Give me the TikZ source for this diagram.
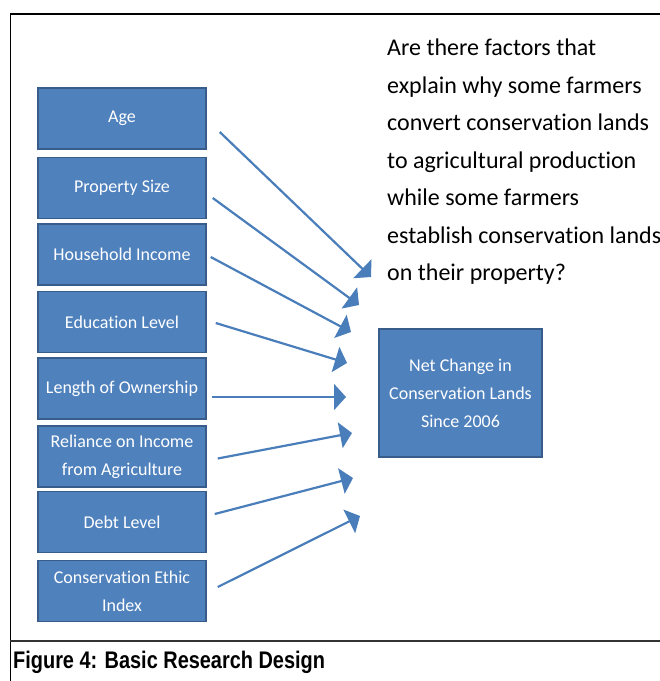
\documentclass[tikz,border=0pt]{standalone}
\usepackage{fontspec}
\setmainfont{Carlito}[RawFeature={-liga;-clig;-calt;-dlig}]
\newfontfamily\capfont{Liberation Sans}
\usetikzlibrary{arrows.meta}

\definecolor{boxblue}{HTML}{4F81BD}
\definecolor{boxedge}{HTML}{385D8A}
\definecolor{linkblue}{HTML}{4A7EBB}

\tikzset{
  factor/.style={draw=boxedge, line width=1.5pt, fill=boxblue, text=white,
    minimum width=168pt, minimum height=61pt, align=center, inner sep=2pt,
    font=\fontsize{18}{28}\selectfont},
  link/.style={draw=linkblue, line width=2.2pt, -{Triangle[length=12pt,width=26pt]}}
}

\begin{document}
\begin{tikzpicture}[x=1pt, y=-1pt]
\useasboundingbox (0,0) rectangle (660,681);

% frame and caption rule
\draw[line width=2.5pt] (10,14) -- (660,14);
\draw[line width=1pt] (10,14) -- (10,681);
\draw[line width=1.8pt, black!80] (10,641) -- (660,641);

\node[factor] (age)       at (122,118.5) {Age};
\node[factor] (propsize)  at (122,188)   {Property Size};
\node[factor] (income)    at (122,254.5) {Household Income};
\node[factor] (education) at (122,322)   {Education Level};
\node[factor] (ownership) at (122,388.5) {Length of Ownership};
\node[factor] (reliance)  at (122,456.5) {Reliance on Income\\from Agriculture};
\node[factor] (debt)      at (122,522)   {Debt Level};
\node[factor] (ethic)     at (122,591)   {Conservation Ethic\\Index};

\node[factor, minimum width=163pt, minimum height=128pt] (netchange) at (460.5,393)
  {Net Change in\\Conservation Lands\\Since 2006};

\node[anchor=north west, align=left, inner sep=0pt,
  font=\fontsize{24}{37.5}\selectfont] (question) at (387,39)
  {Are there factors that\\explain why some farmers\\convert conservation lands\\to agricultural production\\while some farmers\\establish conservation lands\\on their property?};

\node[anchor=west, inner sep=0pt, font=\capfont\fontsize{24}{28}\selectfont\bfseries]
  (caption) at (13,662) {\scalebox{0.83}[1]{Figure 4: Basic Research Design}};

% arrow tips, all short of the outcome box
\coordinate (age-tip)       at (371,277);
\coordinate (propsize-tip)  at (359,305);
\coordinate (income-tip)    at (351,332);
\coordinate (education-tip) at (347,363);
\coordinate (ownership-tip) at (346,397);
\coordinate (reliance-tip)  at (352,433);
\coordinate (debt-tip)      at (353,478);
\coordinate (ethic-tip)     at (360,516);

\draw[link] ([shift={(13,13.5)}]age.east) -- (age-tip);
\draw[link] ([shift={(6,10)}]propsize.east) -- (propsize-tip);
\draw[link] ([shift={(4,2.5)}]income.east) -- (income-tip);
\draw[link] ([shift={(9,1)}]education.east) -- (education-tip);
\draw[link] ([shift={(5,8.5)}]ownership.east) -- (ownership-tip);
\draw[link] ([shift={(11,2)}]reliance.east) -- (reliance-tip);
\draw[link] ([shift={(8,-8)}]debt.east) -- (debt-tip);
\draw[link] ([shift={(11,-4)}]ethic.east) -- (ethic-tip);

\end{tikzpicture}
\end{document}
